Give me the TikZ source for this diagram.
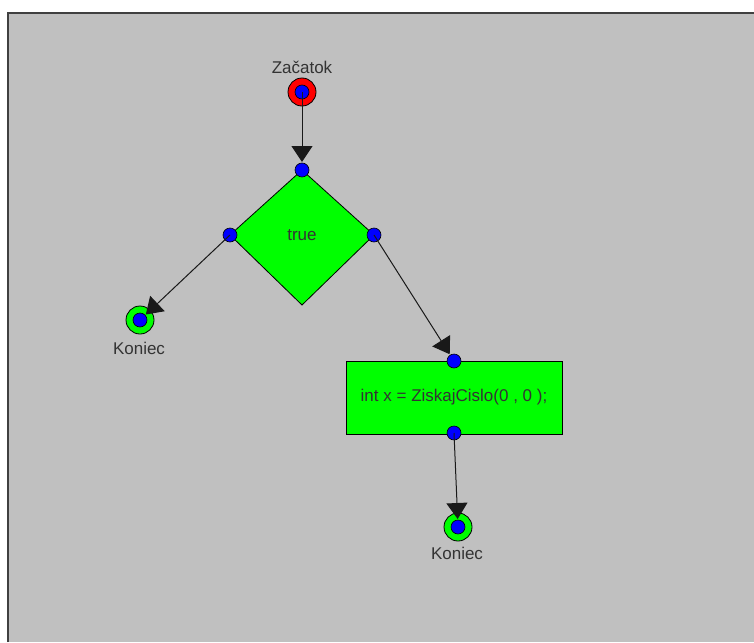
\documentclass[tikz,border=0pt]{standalone}
\usepackage{fontspec}
\setmainfont{Liberation Sans}
\usetikzlibrary{arrows.meta}
\definecolor{bg}{RGB}{192,192,192}
\definecolor{fgreen}{RGB}{0,255,0}
\definecolor{fblue}{RGB}{0,0,255}
\definecolor{fred}{RGB}{255,0,0}
\tikzset{
  lbl/.style={font=\fontsize{17}{19}\selectfont, text=black!80, inner sep=0pt},
  port/.style={circle, fill=fblue, draw=black, line width=0.6pt, minimum size=14pt, inner sep=0pt},
  conn/.style={draw=black!90, line width=1pt, -{Triangle[length=16pt,width=21pt]}, shorten >=8pt},
  termouter/.style={circle, draw=black, line width=0.8pt, minimum size=28pt, inner sep=0pt},
}
\begin{document}
\begin{tikzpicture}[x=1pt,y=-1pt]
\useasboundingbox (0,0) rectangle (754,642);
\fill[white] (0,0) rectangle (754,642);
\fill[bg] (8,13) rectangle (754,642);
\draw[black!75, line width=1.5pt] (8,642) -- (8,13) -- (754,13);
% start
\node[termouter, fill=fred] (start) at (302,92) {};
\node[port] (startdot) at (302,92) {};
\node[lbl] (startlbl) at (302,67) {Začatok};
% diamond
\draw[fill=fgreen, draw=black, line width=0.8pt] (302,170) -- (374,235) -- (302,305) -- (230,235) -- cycle;
\node[lbl] (cond) at (302,235) {true};
\node[port] (dtop) at (302,170) {};
\node[port] (dleft) at (230,235) {};
\node[port] (dright) at (374,235) {};
% rectangle
\node[draw=black, line width=0.8pt, fill=fgreen, minimum width=216pt, minimum height=73pt, inner sep=0pt, lbl] (stmt) at (454,397.5) {int x = ZiskajCislo(0 , 0 );};
\node[port] (stop) at (454,361) {};
\node[port] (sbot) at (454,433) {};
% end left
\node[termouter, fill=fgreen] (end1) at (140,320) {};
\node[port] (end1dot) at (140,320) {};
\node[lbl] (end1lbl) at (139,348) {Koniec};
% end bottom
\node[termouter, fill=fgreen] (end2) at (458,527) {};
\node[port] (end2dot) at (458,527) {};
\node[lbl] (end2lbl) at (457,553) {Koniec};
% connectors
\draw[conn] (startdot.center) -- (dtop.center);
\draw[conn] (dleft.center) -- (end1dot.center);
\draw[conn] (dright.center) -- (stop.center);
\draw[conn] (sbot.center) -- (end2dot.center);
\end{tikzpicture}
\end{document}
